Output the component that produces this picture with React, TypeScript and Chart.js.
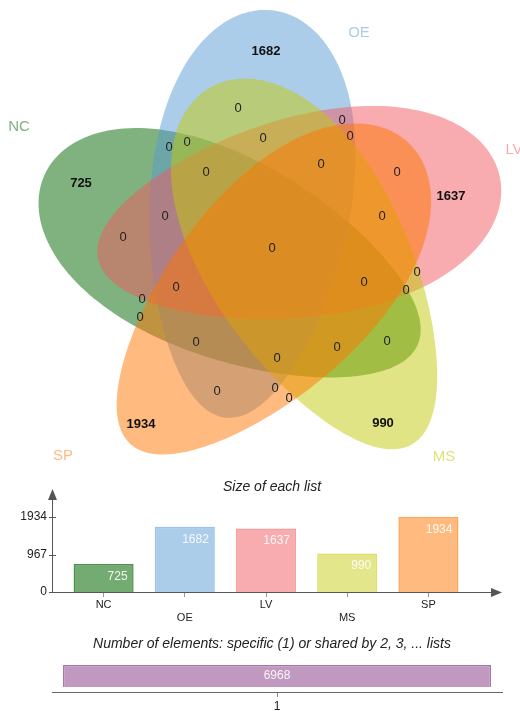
import React, { useEffect, useRef } from 'react';
import { Chart, registerables } from 'chart.js';

Chart.register(...registerables);

// ---------- data ----------
const SET_NAMES = ['NC', 'OE', 'LV', 'MS', 'SP'];
const LIST_SIZES = [725, 1682, 1637, 990, 1934];
const SPECIFIC_COUNTS = [725, 1682, 1637, 990, 1934];
const SHARED_COUNTS = [0, 0, 0, 0, 0, 0, 0, 0, 0, 0, 0, 0, 0, 0, 0, 0, 0, 0, 0, 0, 0, 0, 0, 0, 0, 0];
const SIZE_TICKS = [0, 967, 1934];
const SHARE_LEVELS = ['1'];
const SHARE_VALUES = [6968];

// ---------- layout / style ----------
const FONT = "'Liberation Sans', Arial, Helvetica, sans-serif";
const FILLS = [
  'rgba(0,102,0,0.5)',
  'rgba(90,155,212,0.5)',
  'rgba(241,90,96,0.5)',
  'rgba(196,202,10,0.5)',
  'rgba(255,117,0,0.5)',
];
const BAR_FILLS = [
  'rgba(0,102,0,0.55)',
  'rgba(90,155,212,0.5)',
  'rgba(241,90,96,0.5)',
  'rgba(196,202,10,0.48)',
  'rgba(255,117,0,0.5)',
];
const BAR_BORDERS = [
  'rgba(0,102,0,0.7)',
  'rgba(90,155,212,0.6)',
  'rgba(241,90,96,0.6)',
  'rgba(196,202,10,0.6)',
  'rgba(255,117,0,0.65)',
];
const LABEL_COLORS = ['rgb(127,178,127)', 'rgb(172,205,233)', 'rgb(248,172,175)', 'rgb(222,226,125)', 'rgb(255,186,127)'];

// Venn geometry in venn units (cx, cy, semi-major, semi-minor, rotation deg)
const ELLIPSES = [
  { cx: 231, cy: 260, a: 205, b: 100, rot: 24.6 },
  { cx: 249, cy: 214, a: 205, b: 100, rot: 96.6 },
  { cx: 299, cy: 218, a: 205, b: 100, rot: 168.6 },
  { cx: 311, cy: 266, a: 205, b: 100, rot: 60.6 },
  { cx: 269, cy: 293, a: 205, b: 100, rot: 132.6 },
];
const EGG = 0.16;
const SET_LABEL_POS = [
  [19, 127], [359, 33], [514, 150], [444, 457], [63, 456],
];
const SPECIFIC_POS = [
  [81, 183], [266, 51], [451, 196], [383, 423], [141, 424],
];
const SHARED_POS = [
  [238, 108], [169, 147], [187, 142], [206, 172], [165, 216], [123, 237],
  [263, 138], [342, 120], [350, 136], [321, 164], [397, 172], [382, 216],
  [176, 287], [142, 299], [140, 317], [196, 342], [217, 391],
  [272, 248], [364, 282], [417, 272], [406, 290], [337, 347], [387, 341],
  [277, 358], [275, 388], [289, 398],
];

const vennPlugin = {
  id: 'vennShapes',
  beforeDatasetsDraw(chart: any) {
    const { ctx } = chart;
    const xs = chart.scales.x;
    const ys = chart.scales.y;
    ELLIPSES.forEach((e, i) => {
      const px = xs.getPixelForValue(e.cx);
      const py = ys.getPixelForValue(e.cy);
      const k = Math.abs(xs.getPixelForValue(e.cx + 1) - px);
      const r = (e.rot * Math.PI) / 180;
      const cr = Math.cos(r);
      const sr = Math.sin(r);
      ctx.save();
      ctx.beginPath();
      const N = 180;
      for (let j = 0; j <= N; j++) {
        const t = (j / N) * Math.PI * 2;
        const u = e.a * Math.cos(t) * k;
        const v = e.b * Math.sin(t) * (1 - EGG * Math.cos(t)) * k;
        const x = px + u * cr - v * sr;
        const y = py + u * sr + v * cr;
        if (j === 0) ctx.moveTo(x, y);
        else ctx.lineTo(x, y);
      }
      ctx.closePath();
      ctx.fillStyle = FILLS[i];
      ctx.fill();
      ctx.restore();
    });
  },
  afterDatasetsDraw(chart: any) {
    const { ctx } = chart;
    const xs = chart.scales.x;
    const ys = chart.scales.y;
    ctx.save();
    ctx.textAlign = 'center';
    ctx.textBaseline = 'middle';
    SET_NAMES.forEach((n, i) => {
      ctx.font = `15px ${FONT}`;
      ctx.fillStyle = LABEL_COLORS[i];
      ctx.fillText(n, xs.getPixelForValue(SET_LABEL_POS[i][0]), ys.getPixelForValue(SET_LABEL_POS[i][1]));
    });
    SPECIFIC_COUNTS.forEach((v, i) => {
      ctx.font = `bold 13px ${FONT}`;
      ctx.fillStyle = '#111';
      ctx.fillText(String(v), xs.getPixelForValue(SPECIFIC_POS[i][0]), ys.getPixelForValue(SPECIFIC_POS[i][1]));
    });
    SHARED_COUNTS.forEach((v, i) => {
      ctx.font = `13px ${FONT}`;
      ctx.fillStyle = '#222';
      ctx.fillText(String(v), xs.getPixelForValue(SHARED_POS[i][0]), ys.getPixelForValue(SHARED_POS[i][1]));
    });
    ctx.restore();
  },
};

const titlePlugin = (text: string, x: number, y: number) => ({
  id: 'customTitle',
  afterDraw(chart: any) {
    const { ctx } = chart;
    ctx.save();
    ctx.font = `italic 14px ${FONT}`;
    ctx.fillStyle = '#222';
    ctx.textAlign = 'center';
    ctx.textBaseline = 'middle';
    ctx.fillText(text, x, y);
    ctx.restore();
  },
});

const sizeAxesPlugin = {
  id: 'sizeAxes',
  afterDraw(chart: any) {
    const { ctx, chartArea } = chart;
    const ys = chart.scales.y;
    const ax = chartArea.left - 11;
    const by = chartArea.bottom;
    ctx.save();
    ctx.strokeStyle = '#555';
    ctx.fillStyle = '#555';
    ctx.lineWidth = 1;
    ctx.beginPath();
    ctx.moveTo(ax + 0.5, by + 0.5);
    ctx.lineTo(ax + 0.5, 28);
    ctx.moveTo(ax + 0.5, by + 0.5);
    ctx.lineTo(493, by + 0.5);
    SIZE_TICKS.forEach((v) => {
      const y = Math.round(ys.getPixelForValue(v)) + 0.5;
      ctx.moveTo(ax - 3, y);
      ctx.lineTo(ax + 4, y);
    });
    ctx.stroke();
    ctx.beginPath();
    ctx.moveTo(ax + 0.5, 19);
    ctx.lineTo(ax - 4, 30);
    ctx.lineTo(ax + 5, 30);
    ctx.closePath();
    ctx.fill();
    ctx.beginPath();
    ctx.moveTo(502, by + 0.5);
    ctx.lineTo(491, by - 4);
    ctx.lineTo(491, by + 5);
    ctx.closePath();
    ctx.fill();
    ctx.restore();
  },
  afterDatasetsDraw(chart: any) {
    const { ctx } = chart;
    const meta = chart.getDatasetMeta(0);
    ctx.save();
    ctx.font = `12px ${FONT}`;
    ctx.fillStyle = 'rgba(255,255,255,0.9)';
    ctx.textAlign = 'right';
    ctx.textBaseline = 'middle';
    meta.data.forEach((bar: any, i: number) => {
      const p = bar.getProps(['x', 'y', 'width']);
      ctx.fillText(String(LIST_SIZES[i]), p.x + p.width / 2 - 6, p.y + 12.5);
    });
    ctx.restore();
  },
};

const shareLabelPlugin = {
  id: 'shareLabel',
  afterDatasetsDraw(chart: any) {
    const { ctx } = chart;
    const meta = chart.getDatasetMeta(0);
    ctx.save();
    ctx.font = `12px ${FONT}`;
    ctx.fillStyle = 'rgba(255,255,255,0.9)';
    ctx.textAlign = 'center';
    ctx.textBaseline = 'middle';
    meta.data.forEach((bar: any, i: number) => {
      const p = bar.getProps(['x', 'y', 'base']);
      ctx.fillText(String(SHARE_VALUES[i]), p.x, (p.y + p.base) / 2);
    });
    ctx.restore();
  },
};

export default function App() {
  const vennRef = useRef<HTMLCanvasElement>(null);
  const sizeRef = useRef<HTMLCanvasElement>(null);
  const shareRef = useRef<HTMLCanvasElement>(null);

  useEffect(() => {
    const charts: Chart[] = [];
    charts.push(
      new Chart(vennRef.current as HTMLCanvasElement, {
        type: 'scatter',
        data: {
          datasets: [
            {
              data: ELLIPSES.map((e) => ({ x: e.cx, y: e.cy })),
              pointRadius: 0,
            },
          ],
        },
        options: {
          responsive: false,
          animation: false,
          layout: { padding: 0 },
          plugins: { legend: { display: false }, tooltip: { enabled: false } },
          scales: {
            x: { type: 'linear', min: 0, max: 520, display: false },
            y: { type: 'linear', min: 0, max: 470, reverse: true, display: false },
          },
        },
        plugins: [vennPlugin],
      } as any)
    );

    charts.push(
      new Chart(sizeRef.current as HTMLCanvasElement, {
        type: 'bar',
        data: {
          labels: SET_NAMES,
          datasets: [
            {
              data: LIST_SIZES,
              backgroundColor: BAR_FILLS,
              borderColor: BAR_BORDERS,
              borderWidth: 1.5,
              barPercentage: 0.74,
              categoryPercentage: 1,
            },
          ],
        },
        options: {
          responsive: false,
          animation: false,
          layout: { padding: { top: 47, right: 51, left: 0, bottom: 0 } },
          plugins: { legend: { display: false }, tooltip: { enabled: false } },
          scales: {
            x: {
              grid: { display: true, drawOnChartArea: false, drawTicks: true, tickLength: 5, offset: false, color: '#999' },
              border: { display: false },
              ticks: {
                font: { size: 11, family: FONT },
                color: '#222',
                padding: 1.5,
                maxRotation: 0,
                autoSkip: false,
                callback: (_v: any, i: number) => (i % 2 ? ['', SET_NAMES[i]] : SET_NAMES[i]),
              },
              afterFit: (s: any) => {
                s.height = 38;
              },
            },
            y: {
              min: 0,
              max: 1934,
              afterBuildTicks: (s: any) => {
                s.ticks = SIZE_TICKS.map((v) => ({ value: v }));
              },
              grid: { display: false, drawTicks: false },
              border: { display: false },
              ticks: {
                padding: 16,
                font: { size: 12, family: FONT },
                color: '#222',
                callback: (v: any) => String(v),
              },
              afterFit: (s: any) => {
                s.width = 63;
              },
            },
          },
        },
        plugins: [sizeAxesPlugin, titlePlugin('Size of each list', 272, 17)],
      } as any)
    );

    charts.push(
      new Chart(shareRef.current as HTMLCanvasElement, {
        type: 'bar',
        data: {
          labels: SHARE_LEVELS,
          datasets: [
            {
              data: SHARE_VALUES,
              backgroundColor: 'rgb(192,152,192)',
              borderColor: 'rgb(165,118,165)',
              borderWidth: 1.5,
              barPercentage: 0.951,
              categoryPercentage: 1,
            },
          ],
        },
        options: {
          responsive: false,
          animation: false,
          layout: { padding: { top: 35, left: 52, right: 18, bottom: 0 } },
          plugins: { legend: { display: false }, tooltip: { enabled: false } },
          scales: {
            x: {
              grid: { display: true, drawOnChartArea: false, drawTicks: true, tickLength: 5, offset: false, color: '#888' },
              border: { display: true, color: '#666', width: 1 },
              ticks: { font: { size: 12, family: FONT }, color: '#222', padding: 2, maxRotation: 0 },
              afterFit: (s: any) => {
                s.height = 19;
              },
            },
            y: { display: false, min: -1584, max: 6968 },
          },
        },
        plugins: [
          shareLabelPlugin,
          titlePlugin('Number of elements: specific (1) or shared by 2, 3, ... lists', 272, 14),
        ],
      } as any)
    );

    return () => charts.forEach((c) => c.destroy());
  }, []);

  const cStyle = (top: number): React.CSSProperties => ({ position: 'absolute', left: 0, top, display: 'block' });

  return (
    <div style={{ position: 'absolute', left: 0, top: 0, width: 520, height: 711, background: '#fff', overflow: 'hidden' }}>
      <canvas ref={vennRef} width={520} height={470} style={cStyle(0)} />
      <canvas ref={sizeRef} width={520} height={160} style={cStyle(470)} />
      <canvas ref={shareRef} width={520} height={81} style={cStyle(630)} />
    </div>
  );
}
